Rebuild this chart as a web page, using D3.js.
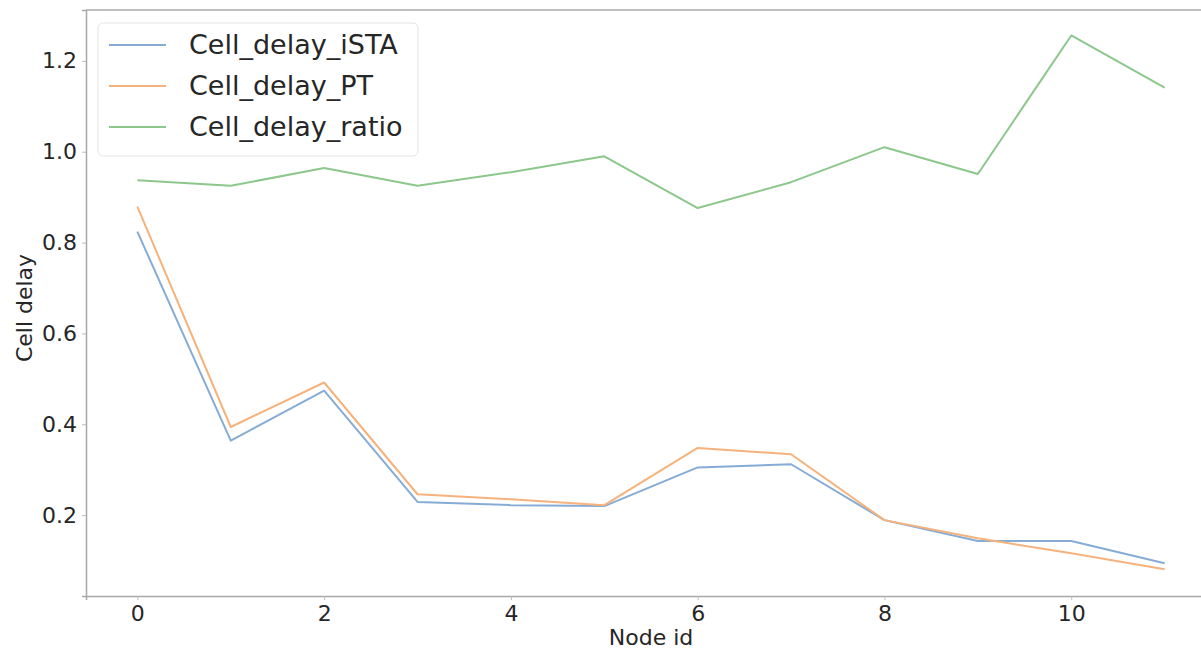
<!DOCTYPE html>
<html>
<head>
<meta charset="utf-8">
<script src="https://cdn.jsdelivr.net/npm/d3@7"></script>
<style>
  body { margin: 0; background: #fff; }
  text { font-family: "DejaVu Sans", sans-serif; fill: #262626; }
</style>
</head>
<body>
<div class="d3-container"></div>
<script>
const nodeIds = [0, 1, 2, 3, 4, 5, 6, 7, 8, 9, 10, 11];
const cellDelayISTA = [0.824, 0.364, 0.474, 0.229, 0.222, 0.220, 0.305, 0.312, 0.189, 0.143, 0.143, 0.094];
const cellDelayPT = [0.879, 0.394, 0.492, 0.246, 0.235, 0.222, 0.348, 0.334, 0.189, 0.149, 0.116, 0.081];
const cellDelayRatio = [0.937, 0.925, 0.964, 0.925, 0.955, 0.990, 0.876, 0.933, 1.010, 0.951, 1.256, 1.141];
const seriesNames = ["Cell_delay_iSTA", "Cell_delay_PT", "Cell_delay_ratio"];
const seriesColors = ["#86acd6", "#f5b27c", "#8cc78c"];
const xTicks = [0, 2, 4, 6, 8, 10];
const yTicks = [0.2, 0.4, 0.6, 0.8, 1.0, 1.2];

const width = 1201;
const height = 651;
const margin = {top: 10, bottom: 55, left: 86, right: -15};

const svg = d3.select(".d3-container")
  .append("svg")
  .attr("width", width)
  .attr("height", height);

const x = d3.scaleLinear()
  .domain([-0.55, 11.55])
  .range([margin.left, width - margin.right]);

const y = d3.scaleLinear()
  .domain([0.022, 1.312])
  .range([height - margin.bottom, margin.top]);

// axes
function xAxis(g) {
  g.attr("transform", `translate(0, ${height - margin.bottom})`)
    .call(d3.axisBottom(x).tickValues(xTicks).tickFormat(d3.format("d")).tickSizeOuter(0).tickSize(4).tickPadding(5));
  g.select(".domain").attr("stroke", "#a8a8a8").attr("stroke-width", 1.5);
  g.selectAll(".tick line").attr("stroke", "#bbb");
  g.selectAll(".tick text").style("font-size", "22px").style("fill", "#262626");
}

function yAxis(g) {
  g.attr("transform", `translate(${margin.left}, 0)`)
    .call(d3.axisLeft(y).tickValues(yTicks).tickFormat(d3.format(".1f")).tickSizeOuter(0).tickSize(4).tickPadding(5));
  g.select(".domain").attr("stroke", "#a8a8a8").attr("stroke-width", 1.5);
  g.selectAll(".tick line").attr("stroke", "#bbb");
  g.selectAll(".tick text").style("font-size", "22px").style("fill", "#262626");
}

svg.append("g").call(xAxis);
svg.append("g").call(yAxis);

// top spine
svg.append("line")
  .attr("x1", margin.left).attr("x2", width)
  .attr("y1", margin.top).attr("y2", margin.top)
  .attr("stroke", "#a8a8a8").attr("stroke-width", 1.5);

// axis labels
svg.append("text")
  .attr("x", 651)
  .attr("y", 645)
  .attr("text-anchor", "middle")
  .style("font-size", "22px")
  .text("Node id");

svg.append("text")
  .attr("transform", `translate(32, ${(margin.top + height - margin.bottom) / 2 + 5}) rotate(-90)`)
  .attr("text-anchor", "middle")
  .style("font-size", "22px")
  .text("Cell delay");

// lines
const series = [cellDelayISTA, cellDelayPT, cellDelayRatio];
const line = d3.line()
  .x((d, i) => x(nodeIds[i]))
  .y(d => y(d));

svg.append("g")
  .selectAll("path")
  .data(series)
  .join("path")
  .attr("fill", "none")
  .attr("stroke", (d, i) => seriesColors[i])
  .attr("stroke-width", 2)
  .attr("stroke-linejoin", "round")
  .attr("d", line);

// legend
const legend = svg.append("g").attr("transform", "translate(98, 23)");
legend.append("rect")
  .attr("width", 320).attr("height", 133)
  .attr("rx", 5)
  .attr("fill", "#fff").attr("fill-opacity", 0.85)
  .attr("stroke", "#e4e4e4");

const rows = legend.selectAll("g.row")
  .data(seriesNames)
  .join("g")
  .attr("class", "row")
  .attr("transform", (d, i) => `translate(0, ${22 + i * 41})`);

rows.append("line")
  .attr("x1", 11).attr("x2", 68)
  .attr("stroke", (d, i) => seriesColors[i])
  .attr("stroke-width", 2);

rows.append("text")
  .attr("x", 91)
  .attr("dy", "0.35em")
  .style("font-size", "27px")
  .text(d => d);
</script>
</body>
</html>
